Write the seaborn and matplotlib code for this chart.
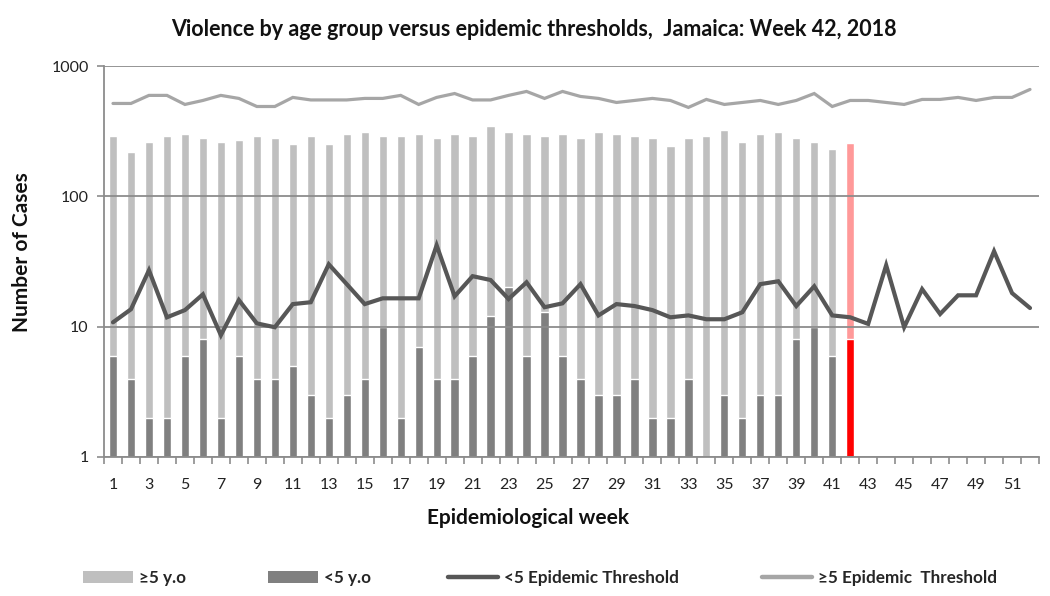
import numpy as np
import pandas as pd
import matplotlib
matplotlib.use("Agg")
import matplotlib.pyplot as plt
from matplotlib.lines import Line2D
from matplotlib.patches import Patch
import seaborn as sns

# Weekly counts, 2018 (weeks 1-42 reported)
weeks_reported = list(range(1, 43))
cases_5plus = [288, 217, 259, 288, 299, 278, 259, 269, 288, 278,
               250, 288, 250, 299, 309, 288, 288, 299, 278, 299,
               288, 344, 309, 299, 288, 299, 278, 309, 299, 288,
               278, 242, 278, 288, 320, 259, 299, 309, 278, 259,
               229, 255]
cases_under5 = [6, 4, 2, 2, 6, 8, 2, 6, 4, 4,
                5, 3, 2, 3, 4, 10, 2, 7, 4, 4,
                6, 12, 20, 6, 13, 6, 4, 3, 3, 4,
                2, 2, 4, np.nan, 3, 2, 3, 3, 8, 10,
                6, 8]

# Epidemic thresholds for all 52 weeks
weeks_all = list(range(1, 53))
threshold_under5 = [10.8, 13.6, 27.1, 11.8, 13.4, 17.7, 8.6, 16.0, 10.6, 9.9,
                    14.9, 15.4, 30.1, 21.2, 14.9, 16.5, 16.5, 16.5, 42.1, 17.1,
                    24.4, 22.8, 16.3, 21.9, 14.1, 15.1, 21.2, 12.2, 14.9, 14.4,
                    13.4, 11.8, 12.2, 11.4, 11.4, 12.9, 21.2, 22.3, 14.4, 20.4,
                    12.2, 11.8, 10.5, 29.6, 9.9, 19.4, 12.5, 17.4, 17.4, 37.9,
                    18.1, 13.9]
threshold_5plus = [516, 516, 595, 595, 507, 544, 595, 564, 489, 489,
                   574, 549, 549, 549, 564, 564, 595, 507, 574, 615,
                   549, 549, 595, 638, 564, 638, 584, 564, 525, 544,
                   564, 544, 481, 554, 507, 525, 544, 507, 544, 615,
                   489, 544, 544, 525, 507, 554, 554, 574, 544, 574,
                   574, 661]

x_labels = [str(w) for w in range(1, 53, 2)]

current_week = 42

C_LIGHT = "#BFBFBF"
C_DARK = "#808080"
C_LINE_DARK = "#575757"
C_LINE_LIGHT = "#A6A6A6"
C_GRID = "#8C8C8C"
C_CUR_LIGHT = "#FF9999"
C_CUR_DARK = "#FF0000"

sns.set_theme(style="white")
plt.rcParams["font.family"] = ["Lato", "DejaVu Sans"]

bars = pd.DataFrame({"week": weeks_reported,
                     "ge5": cases_5plus,
                     "lt5": cases_under5})
thr = pd.DataFrame({"week": weeks_all,
                    "lt5": threshold_under5,
                    "ge5": threshold_5plus})

W, H = 1050, 596
fig = plt.figure(figsize=(W / 100, H / 100), dpi=100)
ax = fig.add_axes([104 / W, 1 - 457 / H, (1039 - 104) / W, (457 - 66) / H])
ax.set_yscale("log")

bar_w = 0.46
sns.barplot(data=bars, x="week", y="ge5", native_scale=True, color=C_LIGHT,
            width=bar_w, saturation=1, errorbar=None, ax=ax, zorder=1)
n_light = len(ax.patches)
sns.barplot(data=bars.dropna(subset=["lt5"]), x="week", y="lt5", native_scale=True,
            color=C_DARK, width=bar_w, saturation=1, errorbar=None, ax=ax, zorder=2)

# highlight the current week
for i, p in enumerate(ax.patches):
    cx = p.get_x() + p.get_width() / 2
    if abs(cx - current_week) < 0.3:
        p.set_facecolor(C_CUR_LIGHT if i < n_light else C_CUR_DARK)

sns.lineplot(data=thr, x="week", y="lt5", color=C_LINE_DARK, lw=3.0, ax=ax,
             zorder=5, solid_joinstyle="miter")
sns.lineplot(data=thr, x="week", y="ge5", color=C_LINE_LIGHT, lw=2.3, ax=ax,
             zorder=5, solid_joinstyle="miter")

ax.set_ylim(1, 1000)
ax.set_xlim(0.5, 52.5)
ax.set_yticks([1, 10, 100, 1000])
ax.set_yticklabels(["1", "10", "100", "1000"])
ax.yaxis.set_minor_locator(matplotlib.ticker.NullLocator())
ax.set_xticks(range(1, 53, 2))
ax.set_xticklabels(x_labels)
ax.set_xticks(np.arange(0.5, 53, 1), minor=True)
ax.tick_params(axis="x", which="major", length=0, pad=15, labelsize=11.5, colors="#222222")
ax.tick_params(axis="x", which="minor", length=5, width=1.2, color=C_GRID, bottom=True)
ax.tick_params(axis="y", which="major", length=5, width=1.2, color=C_GRID, left=True,
               labelsize=11.5, labelcolor="#222222", pad=6)

# gridlines sit over the bars, under the threshold lines
ax.set_axisbelow(False)
ax.grid(axis="y", which="major", color=C_GRID, lw=1.3)
for s in ("top", "right"):
    ax.spines[s].set_visible(False)
for s in ("left", "bottom"):
    ax.spines[s].set_color(C_GRID)
    ax.spines[s].set_linewidth(1.3)
ax.set_xlabel("")
ax.set_ylabel("")

fig.text(534 / W, 1 - 30 / H,
         "Violence by age group versus epidemic thresholds,  Jamaica: Week 42, 2018",
         ha="center", va="center", fontsize=15.5, fontweight="bold", color="#111111")
fig.text(528 / W, 1 - 518 / H, "Epidemiological week", ha="center", va="center",
         fontsize=15, fontweight="bold", color="#111111")
fig.text(22 / W, 1 - 252 / H, "Number of Cases", ha="center", va="center",
         rotation=90, fontsize=15, fontweight="bold", color="#111111")

# legend entries, one per slot along the bottom
legend_items = [
    (Patch(facecolor=C_LIGHT, edgecolor="none"), "≥5 y.o", 83),
    (Patch(facecolor=C_DARK, edgecolor="none"), "<5 y.o", 268),
    (Line2D([], [], color=C_LINE_DARK, lw=3.2), "<5 Epidemic Threshold", 448),
    (Line2D([], [], color=C_LINE_LIGHT, lw=3.2), "≥5 Epidemic  Threshold", 762),
]
for handle, label, x0 in legend_items:
    fig.legend([handle], [label], loc="center left",
               bbox_to_anchor=(x0 / W, 1 - 578 / H), frameon=False,
               borderpad=0, borderaxespad=0, handlelength=2.9, handleheight=0.65,
               handletextpad=0.4, prop={"weight": "bold", "size": 12.3})

fig.savefig("out.png", dpi=100)
